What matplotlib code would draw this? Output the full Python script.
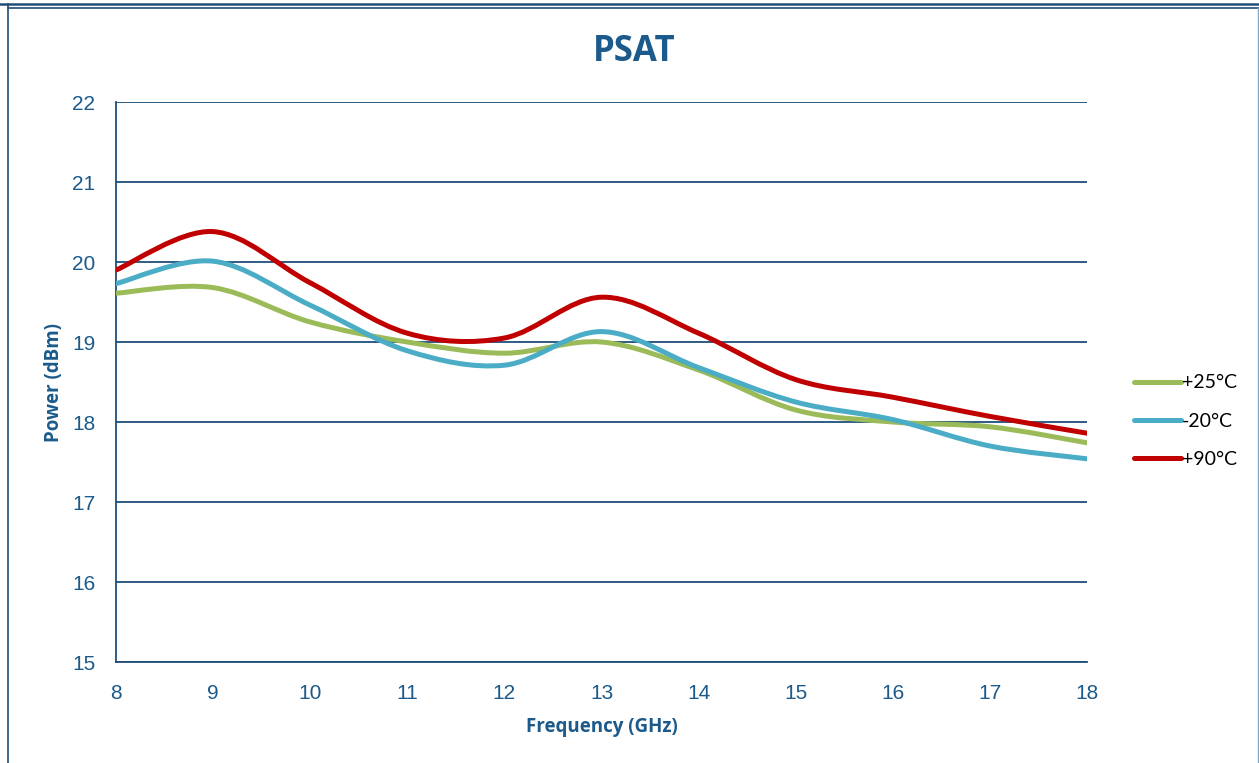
import matplotlib
matplotlib.use("Agg")
import matplotlib.pyplot as plt
from matplotlib.path import Path
from matplotlib.patches import PathPatch
from matplotlib.lines import Line2D

# data
freq = [8, 9, 10, 11, 12, 13, 14, 15, 16, 17, 18]
psat_25 = [19.61, 19.68, 19.25, 19.00, 18.86, 19.00, 18.65, 18.15, 18.00, 17.94, 17.74]
psat_m20 = [19.73, 20.01, 19.46, 18.89, 18.71, 19.13, 18.68, 18.25, 18.03, 17.70, 17.54]
psat_90 = [19.90, 20.38, 19.74, 19.11, 19.05, 19.56, 19.11, 18.53, 18.31, 18.07, 17.86]
labels = ["+25°C", "-20°C", "+90°C"]
colors = ["#9BBB59", "#4BACC6", "#C00000"]

text_col = "#1B5A8A"
grid_col = "#1F4E79"


def smooth_path(xs, ys):
    """Excel-style smoothed line as cubic bezier path"""
    pts = list(zip(xs, ys))
    n = len(pts)
    verts = [pts[0]]
    codes = [Path.MOVETO]
    for i in range(n - 1):
        p0 = pts[i - 1] if i > 0 else pts[i]
        p1 = pts[i]
        p2 = pts[i + 1]
        p3 = pts[i + 2] if i + 2 < n else pts[i + 1]
        c1 = (p1[0] + (p2[0] - p0[0]) / 6, p1[1] + (p2[1] - p0[1]) / 6)
        c2 = (p2[0] - (p3[0] - p1[0]) / 6, p2[1] - (p3[1] - p1[1]) / 6)
        verts += [c1, c2, p2]
        codes += [Path.CURVE4] * 3
    return Path(verts, codes)


fig = plt.figure(figsize=(12.59, 7.63), dpi=100)
ax = fig.add_axes([116 / 1259, 1 - 662 / 763, (1087 - 116) / 1259, (662 - 102) / 763])

for ys, lab, col in zip([psat_25, psat_m20, psat_90], labels, colors):
    patch = PathPatch(smooth_path(freq, ys), facecolor="none", edgecolor=col,
                      lw=3.6, capstyle="round", joinstyle="round", zorder=3)
    ax.add_patch(patch)

ax.set_xlim(8, 18)
ax.set_ylim(15, 22)
ax.set_xticks(range(8, 19))
ax.set_yticks(range(15, 23))
ax.yaxis.grid(True, color=grid_col, lw=1.3)
ax.set_axisbelow(True)
for s in ["top", "right"]:
    ax.spines[s].set_visible(False)
for s in ["left", "bottom"]:
    ax.spines[s].set_color(grid_col)
    ax.spines[s].set_linewidth(1.3)
ax.tick_params(length=0, labelsize=15, labelcolor=text_col)
ax.tick_params(axis="x", pad=16)
ax.tick_params(axis="y", pad=15)
for t in ax.get_xticklabels() + ax.get_yticklabels():
    t.set_fontfamily("Liberation Sans")

ax.set_xlabel("Frequency (GHz)", fontsize=13.5, fontweight="bold", color=text_col,
              fontfamily="Open Sans", labelpad=10)
ax.set_ylabel("Power (dBm)", fontsize=13.5, fontweight="bold", color=text_col,
              fontfamily="Open Sans", labelpad=6)
fig.text(634 / 1259, 1 - 52 / 763, "PSAT", ha="center", va="center", fontsize=25,
         fontweight="bold", color=text_col, fontfamily="Open Sans")

handles = [Line2D([], [], color=c, lw=3.6, solid_capstyle="round") for c in colors]
leg = ax.legend(handles, labels, loc="center left", bbox_to_anchor=(1.03, 0.43),
                frameon=False, handlelength=2.45, handletextpad=0.05,
                labelspacing=1.1, prop={"family": "Lato", "size": 14})

# outer frame lines
fig.add_artist(Line2D([0, 1], [1 - 4 / 763] * 2, color=grid_col, lw=1.8))
fig.add_artist(Line2D([8 / 1259, 8 / 1259], [0, 1 - 4 / 763], color=grid_col, lw=1.2))
fig.add_artist(Line2D([8 / 1259, 1], [1 - 8 / 763] * 2, color=grid_col, lw=1.2))
fig.add_artist(Line2D([1258 / 1259] * 2, [0, 1 - 8 / 763], color="#7FA8C9", lw=1.0))

fig.savefig("out.png", dpi=100)
